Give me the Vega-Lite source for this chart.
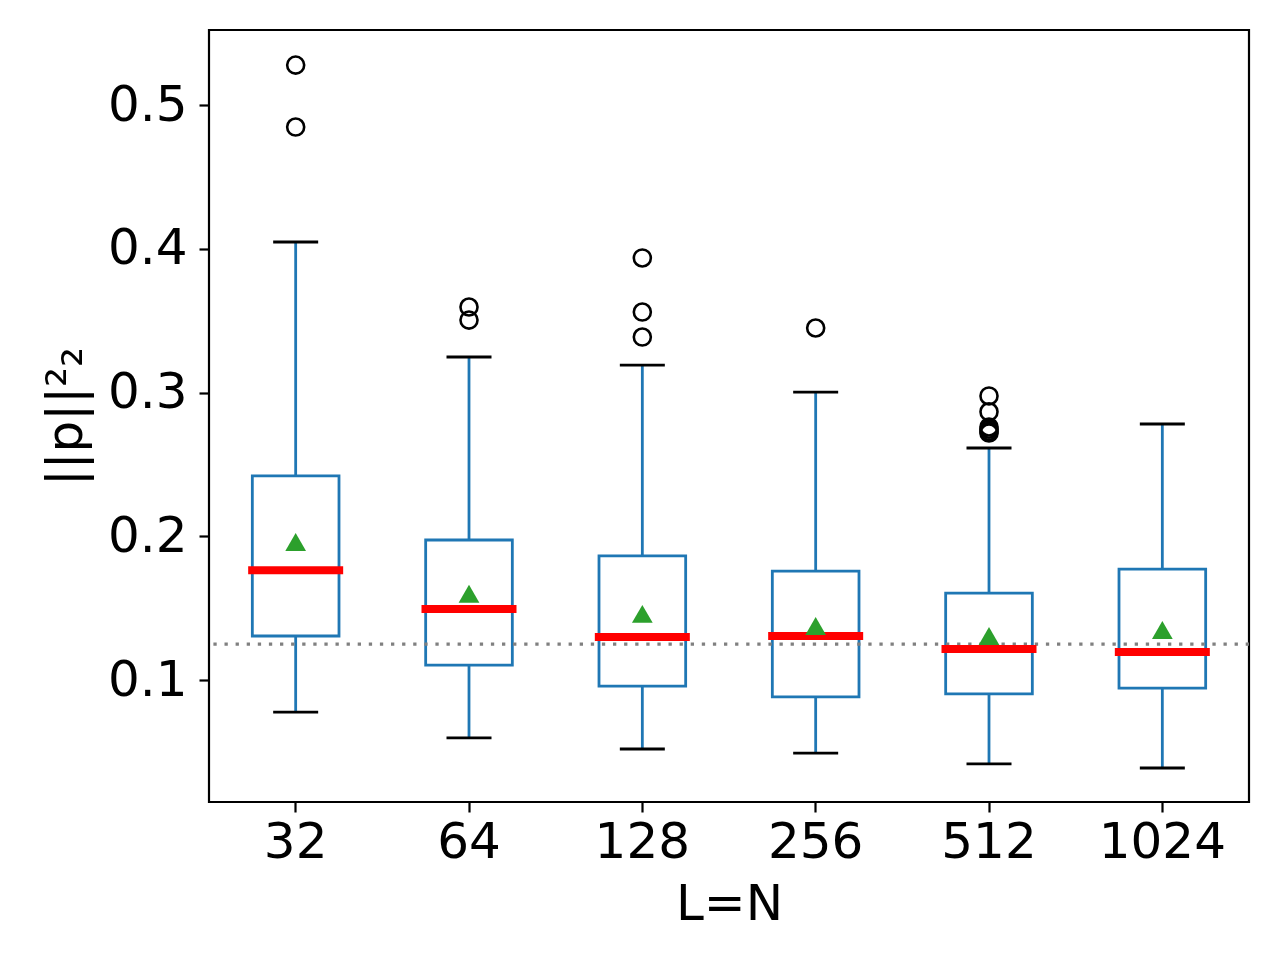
{
  "$schema": "https://vega.github.io/schema/vega-lite/v6.json",
  "width": 1040,
  "height": 772,
  "autosize": {"type": "none"},
  "padding": {"left": 209, "top": 30, "right": 31, "bottom": 158},
  "background": "white",
  "config": {
    "view": {"stroke": "black", "strokeWidth": 2.2},
    "font": "DejaVu Sans",
    "axis": {
      "domain": false,
      "grid": false,
      "tickColor": "black",
      "tickSize": 10,
      "tickWidth": 2.2,
      "labelColor": "black",
      "labelFont": "DejaVu Sans",
      "labelFontSize": 50,
      "titleFont": "DejaVu Sans",
      "titleFontSize": 50,
      "titleFontWeight": "normal",
      "titleColor": "black"
    }
  },
  "datasets": {
    "stats": [
      {"L": "32", "lo": 0.0777, "q1": 0.1306, "med": 0.1763, "q3": 0.2420, "hi": 0.4047, "mean": 0.1960},
      {"L": "64", "lo": 0.0597, "q1": 0.1104, "med": 0.1494, "q3": 0.1974, "hi": 0.3247, "mean": 0.1600},
      {"L": "128", "lo": 0.0520, "q1": 0.0958, "med": 0.1300, "q3": 0.1863, "hi": 0.3190, "mean": 0.1460},
      {"L": "256", "lo": 0.0492, "q1": 0.0882, "med": 0.1306, "q3": 0.1758, "hi": 0.3003, "mean": 0.1376},
      {"L": "512", "lo": 0.0416, "q1": 0.0903, "med": 0.1216, "q3": 0.1605, "hi": 0.2614, "mean": 0.1306},
      {"L": "1024", "lo": 0.0388, "q1": 0.0944, "med": 0.1195, "q3": 0.1772, "hi": 0.2781, "mean": 0.1348}
    ],
    "outliers": [
      {"L": "32", "v": 0.4847},
      {"L": "32", "v": 0.5278},
      {"L": "64", "v": 0.3504},
      {"L": "64", "v": 0.3595},
      {"L": "128", "v": 0.3386},
      {"L": "128", "v": 0.3560},
      {"L": "128", "v": 0.3936},
      {"L": "256", "v": 0.3449},
      {"L": "512", "v": 0.2976},
      {"L": "512", "v": 0.2866},
      {"L": "512", "v": 0.2760},
      {"L": "512", "v": 0.2745},
      {"L": "512", "v": 0.2730},
      {"L": "512", "v": 0.2718}
    ]
  },
  "encoding": {
    "x": {
      "field": "L",
      "type": "nominal",
      "scale": {"type": "band", "domain": ["32", "64", "128", "256", "512", "1024"], "paddingInner": 0, "paddingOuter": 0},
      "axis": {"labelAngle": 0, "labelPadding": 5, "title": "L=N", "titlePadding": 12}
    }
  },
  "layer": [
    {
      "data": {"name": "stats"},
      "mark": {"type": "rule", "color": "#1f77b4", "strokeWidth": 2.8},
      "encoding": {
        "y": {
          "field": "lo",
          "type": "quantitative",
          "scale": {"domain": [0.01513, 0.5522], "nice": false, "zero": false},
          "axis": {"values": [0.1, 0.2, 0.3, 0.4, 0.5], "format": ".1f", "labelPadding": 12, "title": "||p||²₂", "titlePadding": 16}
        },
        "y2": {"field": "q1"}
      }
    },
    {
      "data": {"name": "stats"},
      "mark": {"type": "rule", "color": "#1f77b4", "strokeWidth": 2.8},
      "encoding": {
        "y": {"field": "q3", "type": "quantitative"},
        "y2": {"field": "hi"}
      }
    },
    {
      "data": {"name": "stats"},
      "mark": {"type": "bar", "fill": "transparent", "stroke": "#1f77b4", "strokeWidth": 2.8, "width": {"band": 0.5}},
      "encoding": {
        "y": {"field": "q1", "type": "quantitative"},
        "y2": {"field": "q3"}
      }
    },
    {
      "data": {"name": "stats"},
      "mark": {"type": "tick", "color": "black", "size": 45, "thickness": 2.8, "orient": "horizontal", "opacity": 1},
      "encoding": {
        "y": {"field": "lo", "type": "quantitative"}
      }
    },
    {
      "data": {"name": "stats"},
      "mark": {"type": "tick", "color": "black", "size": 45, "thickness": 2.8, "orient": "horizontal", "opacity": 1},
      "encoding": {
        "y": {"field": "hi", "type": "quantitative"}
      }
    },
    {
      "data": {"values": [{"ref": 0.125}]},
      "mark": {"type": "rule", "color": "#808080", "strokeWidth": 3.3, "strokeDash": [3.3, 7.8], "strokeCap": "butt"},
      "encoding": {
        "x": null,
        "y": {"field": "ref", "type": "quantitative"}
      }
    },
    {
      "data": {"name": "stats"},
      "mark": {"type": "tick", "color": "#ff0000", "size": 95, "thickness": 8, "orient": "horizontal", "opacity": 1},
      "encoding": {
        "y": {"field": "med", "type": "quantitative"}
      }
    },
    {
      "data": {"name": "stats"},
      "mark": {"type": "point", "shape": "triangle-up", "filled": true, "color": "#2ca02c", "size": 430, "opacity": 1},
      "encoding": {
        "y": {"field": "mean", "type": "quantitative"}
      }
    },
    {
      "data": {"name": "outliers"},
      "mark": {"type": "point", "shape": "circle", "filled": false, "stroke": "black", "strokeWidth": 2.6, "size": 290, "opacity": 1},
      "encoding": {
        "y": {"field": "v", "type": "quantitative"}
      }
    }
  ]
}
